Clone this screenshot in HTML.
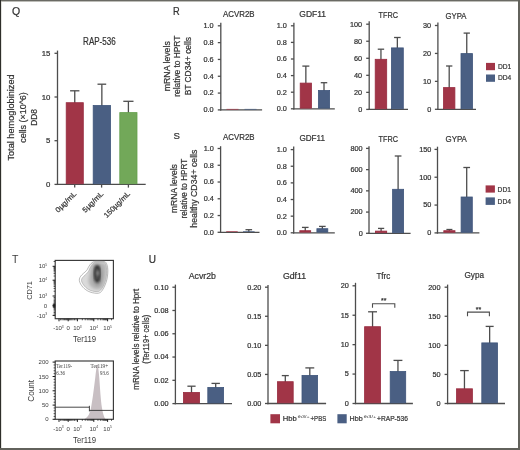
<!DOCTYPE html>
<html><head><meta charset="utf-8"><style>
html,body{margin:0;padding:0;background:#fff;}
svg{display:block;font-family:"Liberation Sans",sans-serif;will-change:transform;}
text{stroke:#333;stroke-width:0.22px;}
.lt text{stroke:none;fill:#3c3c3c;}
</style></head><body>
<svg width="520" height="450" viewBox="0 0 520 450">
<rect x="0" y="0" width="520" height="450" fill="#ffffff"/>
<text x="12" y="15.3" font-size="10.5" fill="#333333">Q</text>
<text x="83.1" y="45" font-size="10.4" fill="#333333" textLength="32.6" lengthAdjust="spacingAndGlyphs">RAP-536</text>
<line x1="57.5" y1="50.6" x2="57.5" y2="185.05" stroke="#4d4d4d" stroke-width="1.3"/>
<line x1="56.85" y1="184.4" x2="145.7" y2="184.4" stroke="#4d4d4d" stroke-width="1.3"/>
<line x1="54.5" y1="184.4" x2="57.5" y2="184.4" stroke="#4d4d4d" stroke-width="1.3"/>
<text x="50.4" y="186.97" font-size="7.8" fill="#333333" text-anchor="end">0</text>
<line x1="54.5" y1="140.7" x2="57.5" y2="140.7" stroke="#4d4d4d" stroke-width="1.3"/>
<text x="50.4" y="143.27" font-size="7.8" fill="#333333" text-anchor="end">5</text>
<line x1="54.5" y1="97" x2="57.5" y2="97" stroke="#4d4d4d" stroke-width="1.3"/>
<text x="50.4" y="99.57" font-size="7.8" fill="#333333" text-anchor="end">10</text>
<line x1="54.5" y1="53.3" x2="57.5" y2="53.3" stroke="#4d4d4d" stroke-width="1.3"/>
<text x="50.4" y="55.87" font-size="7.8" fill="#333333" text-anchor="end">15</text>
<line x1="74.75" y1="103.3" x2="74.75" y2="90.8" stroke="#4d4d4d" stroke-width="1.3"/>
<line x1="70.1" y1="90.8" x2="79.4" y2="90.8" stroke="#4d4d4d" stroke-width="1.3"/>
<rect x="66.2" y="102.7" width="17.1" height="81.05" fill="#a13547" stroke="#982c40" stroke-width="0.8"/>
<line x1="101.85" y1="106.1" x2="101.85" y2="84.2" stroke="#4d4d4d" stroke-width="1.3"/>
<line x1="97.5" y1="84.2" x2="106.2" y2="84.2" stroke="#4d4d4d" stroke-width="1.3"/>
<rect x="93.2" y="105.5" width="17.3" height="78.25" fill="#4a5f83" stroke="#3f557b" stroke-width="0.8"/>
<line x1="128.4" y1="113.2" x2="128.4" y2="101.3" stroke="#4d4d4d" stroke-width="1.3"/>
<line x1="123.3" y1="101.3" x2="133.5" y2="101.3" stroke="#4d4d4d" stroke-width="1.3"/>
<rect x="119.8" y="112.6" width="17.2" height="71.15" fill="#72a859" stroke="#64a04c" stroke-width="0.8"/>
<line x1="74.7" y1="184.4" x2="74.7" y2="187.6" stroke="#4d4d4d" stroke-width="1.3"/>
<line x1="101.6" y1="184.4" x2="101.6" y2="187.6" stroke="#4d4d4d" stroke-width="1.3"/>
<line x1="128.4" y1="184.4" x2="128.4" y2="187.6" stroke="#4d4d4d" stroke-width="1.3"/>
<text x="76.9" y="194.3" font-size="7.3" fill="#333333" text-anchor="end" textLength="26.3" lengthAdjust="spacingAndGlyphs" transform="rotate(-45 76.9 194.3)">0µg/mL</text>
<text x="103.9" y="194.3" font-size="7.3" fill="#333333" text-anchor="end" textLength="26.3" lengthAdjust="spacingAndGlyphs" transform="rotate(-45 103.9 194.3)">5µg/mL</text>
<text x="130.6" y="194.3" font-size="7.3" fill="#333333" text-anchor="end" textLength="33.8" lengthAdjust="spacingAndGlyphs" transform="rotate(-45 130.6 194.3)">150µg/mL</text>
<text x="14.2" y="117.5" font-size="9.4" fill="#333333" text-anchor="middle" textLength="86.2" lengthAdjust="spacingAndGlyphs" transform="rotate(-90 14.2 117.5)">Total hemoglobinized</text>
<text x="25.6" y="117.5" font-size="9.4" fill="#333333" text-anchor="middle" textLength="50.6" lengthAdjust="spacingAndGlyphs" transform="rotate(-90 25.6 117.5)">cells (×10^6)</text>
<text x="36.7" y="117.5" font-size="9.4" fill="#333333" text-anchor="middle" textLength="16.7" lengthAdjust="spacingAndGlyphs" transform="rotate(-90 36.7 117.5)">DD8</text>
<text x="173" y="15.4" font-size="10" fill="#333333" textLength="6.7" lengthAdjust="spacingAndGlyphs">R</text>
<text x="223.1" y="17.3" font-size="8.9" fill="#333333" textLength="31.5" lengthAdjust="spacingAndGlyphs">ACVR2B</text>
<text x="299.3" y="16.7" font-size="8.9" fill="#333333" textLength="26.7" lengthAdjust="spacingAndGlyphs">GDF11</text>
<text x="378.6" y="18.3" font-size="8.9" fill="#333333" textLength="19.4" lengthAdjust="spacingAndGlyphs">TFRC</text>
<text x="445.6" y="18.5" font-size="8.9" fill="#333333" textLength="20.9" lengthAdjust="spacingAndGlyphs">GYPA</text>
<line x1="220.8" y1="22.8" x2="220.8" y2="110.55" stroke="#4d4d4d" stroke-width="1.3"/>
<line x1="220.15" y1="109.9" x2="262.1" y2="109.9" stroke="#4d4d4d" stroke-width="1.3"/>
<line x1="217.8" y1="109.9" x2="220.8" y2="109.9" stroke="#4d4d4d" stroke-width="1.3"/>
<text x="213.7" y="112.31" font-size="7.3" fill="#333333" text-anchor="end">0.0</text>
<line x1="217.8" y1="93.08" x2="220.8" y2="93.08" stroke="#4d4d4d" stroke-width="1.3"/>
<text x="213.7" y="95.49" font-size="7.3" fill="#333333" text-anchor="end">0.2</text>
<line x1="217.8" y1="76.26" x2="220.8" y2="76.26" stroke="#4d4d4d" stroke-width="1.3"/>
<text x="213.7" y="78.67" font-size="7.3" fill="#333333" text-anchor="end">0.4</text>
<line x1="217.8" y1="59.44" x2="220.8" y2="59.44" stroke="#4d4d4d" stroke-width="1.3"/>
<text x="213.7" y="61.85" font-size="7.3" fill="#333333" text-anchor="end">0.6</text>
<line x1="217.8" y1="42.62" x2="220.8" y2="42.62" stroke="#4d4d4d" stroke-width="1.3"/>
<text x="213.7" y="45.03" font-size="7.3" fill="#333333" text-anchor="end">0.8</text>
<line x1="217.8" y1="25.8" x2="220.8" y2="25.8" stroke="#4d4d4d" stroke-width="1.3"/>
<text x="213.7" y="28.21" font-size="7.3" fill="#333333" text-anchor="end">1.0</text>
<rect x="226.5" y="108.9" width="12" height="0.7" fill="#a13547"/>
<rect x="244.5" y="108.9" width="12" height="0.7" fill="#4a5f83"/>
<line x1="293.9" y1="22.8" x2="293.9" y2="109.45" stroke="#4d4d4d" stroke-width="1.3"/>
<line x1="293.25" y1="108.8" x2="334.8" y2="108.8" stroke="#4d4d4d" stroke-width="1.3"/>
<line x1="290.9" y1="108.8" x2="293.9" y2="108.8" stroke="#4d4d4d" stroke-width="1.3"/>
<text x="286.9" y="111.21" font-size="7.3" fill="#333333" text-anchor="end">0.0</text>
<line x1="290.9" y1="92.2" x2="293.9" y2="92.2" stroke="#4d4d4d" stroke-width="1.3"/>
<text x="286.9" y="94.61" font-size="7.3" fill="#333333" text-anchor="end">0.2</text>
<line x1="290.9" y1="75.6" x2="293.9" y2="75.6" stroke="#4d4d4d" stroke-width="1.3"/>
<text x="286.9" y="78.01" font-size="7.3" fill="#333333" text-anchor="end">0.4</text>
<line x1="290.9" y1="59" x2="293.9" y2="59" stroke="#4d4d4d" stroke-width="1.3"/>
<text x="286.9" y="61.41" font-size="7.3" fill="#333333" text-anchor="end">0.6</text>
<line x1="290.9" y1="42.4" x2="293.9" y2="42.4" stroke="#4d4d4d" stroke-width="1.3"/>
<text x="286.9" y="44.81" font-size="7.3" fill="#333333" text-anchor="end">0.8</text>
<line x1="290.9" y1="25.8" x2="293.9" y2="25.8" stroke="#4d4d4d" stroke-width="1.3"/>
<text x="286.9" y="28.21" font-size="7.3" fill="#333333" text-anchor="end">1.0</text>
<line x1="305.85" y1="83.7" x2="305.85" y2="66.1" stroke="#4d4d4d" stroke-width="1.3"/>
<line x1="302.35" y1="66.1" x2="309.35" y2="66.1" stroke="#4d4d4d" stroke-width="1.3"/>
<rect x="300.2" y="83.1" width="11.3" height="25.05" fill="#a13547" stroke="#982c40" stroke-width="0.8"/>
<line x1="324" y1="91.1" x2="324" y2="82.7" stroke="#4d4d4d" stroke-width="1.3"/>
<line x1="320.75" y1="82.7" x2="327.25" y2="82.7" stroke="#4d4d4d" stroke-width="1.3"/>
<rect x="318.4" y="90.5" width="11.2" height="17.65" fill="#4a5f83" stroke="#3f557b" stroke-width="0.8"/>
<line x1="369.2" y1="21.2" x2="369.2" y2="110.05" stroke="#4d4d4d" stroke-width="1.3"/>
<line x1="368.55" y1="109.4" x2="408" y2="109.4" stroke="#4d4d4d" stroke-width="1.3"/>
<line x1="366.2" y1="109.4" x2="369.2" y2="109.4" stroke="#4d4d4d" stroke-width="1.3"/>
<text x="362.2" y="111.81" font-size="7.3" fill="#333333" text-anchor="end">0</text>
<line x1="366.2" y1="92.36" x2="369.2" y2="92.36" stroke="#4d4d4d" stroke-width="1.3"/>
<text x="362.2" y="94.77" font-size="7.3" fill="#333333" text-anchor="end">20</text>
<line x1="366.2" y1="75.32" x2="369.2" y2="75.32" stroke="#4d4d4d" stroke-width="1.3"/>
<text x="362.2" y="77.73" font-size="7.3" fill="#333333" text-anchor="end">40</text>
<line x1="366.2" y1="58.28" x2="369.2" y2="58.28" stroke="#4d4d4d" stroke-width="1.3"/>
<text x="362.2" y="60.69" font-size="7.3" fill="#333333" text-anchor="end">60</text>
<line x1="366.2" y1="41.24" x2="369.2" y2="41.24" stroke="#4d4d4d" stroke-width="1.3"/>
<text x="362.2" y="43.65" font-size="7.3" fill="#333333" text-anchor="end">80</text>
<line x1="366.2" y1="24.2" x2="369.2" y2="24.2" stroke="#4d4d4d" stroke-width="1.3"/>
<text x="362.2" y="26.61" font-size="7.3" fill="#333333" text-anchor="end">100</text>
<line x1="380.95" y1="59.9" x2="380.95" y2="49.2" stroke="#4d4d4d" stroke-width="1.3"/>
<line x1="377.75" y1="49.2" x2="384.15" y2="49.2" stroke="#4d4d4d" stroke-width="1.3"/>
<rect x="375.2" y="59.3" width="11.5" height="49.45" fill="#a13547" stroke="#982c40" stroke-width="0.8"/>
<line x1="397.35" y1="48.5" x2="397.35" y2="37.5" stroke="#4d4d4d" stroke-width="1.3"/>
<line x1="394.05" y1="37.5" x2="400.65" y2="37.5" stroke="#4d4d4d" stroke-width="1.3"/>
<rect x="391.4" y="47.9" width="11.9" height="60.85" fill="#4a5f83" stroke="#3f557b" stroke-width="0.8"/>
<line x1="437.9" y1="22.6" x2="437.9" y2="109.95" stroke="#4d4d4d" stroke-width="1.3"/>
<line x1="437.25" y1="109.3" x2="476" y2="109.3" stroke="#4d4d4d" stroke-width="1.3"/>
<line x1="434.9" y1="109.3" x2="437.9" y2="109.3" stroke="#4d4d4d" stroke-width="1.3"/>
<text x="431.2" y="111.71" font-size="7.3" fill="#333333" text-anchor="end">0</text>
<line x1="434.9" y1="81.37" x2="437.9" y2="81.37" stroke="#4d4d4d" stroke-width="1.3"/>
<text x="431.2" y="83.78" font-size="7.3" fill="#333333" text-anchor="end">10</text>
<line x1="434.9" y1="53.43" x2="437.9" y2="53.43" stroke="#4d4d4d" stroke-width="1.3"/>
<text x="431.2" y="55.84" font-size="7.3" fill="#333333" text-anchor="end">20</text>
<line x1="434.9" y1="25.5" x2="437.9" y2="25.5" stroke="#4d4d4d" stroke-width="1.3"/>
<text x="431.2" y="27.91" font-size="7.3" fill="#333333" text-anchor="end">30</text>
<line x1="449.2" y1="88.2" x2="449.2" y2="66" stroke="#4d4d4d" stroke-width="1.3"/>
<line x1="446.05" y1="66" x2="452.35" y2="66" stroke="#4d4d4d" stroke-width="1.3"/>
<rect x="443.5" y="87.6" width="11.4" height="21.05" fill="#a13547" stroke="#982c40" stroke-width="0.8"/>
<line x1="466.75" y1="54.2" x2="466.75" y2="33.1" stroke="#4d4d4d" stroke-width="1.3"/>
<line x1="463.6" y1="33.1" x2="469.9" y2="33.1" stroke="#4d4d4d" stroke-width="1.3"/>
<rect x="461" y="53.6" width="11.5" height="55.05" fill="#4a5f83" stroke="#3f557b" stroke-width="0.8"/>
<rect x="486" y="62.9" width="9" height="7.3" fill="#a13547"/>
<rect x="486" y="74.5" width="9" height="7.3" fill="#4a5f83"/>
<text x="498" y="68.8" font-size="7.4" fill="#333333" textLength="13.3" lengthAdjust="spacingAndGlyphs">DD1</text>
<text x="498" y="80.4" font-size="7.4" fill="#333333" textLength="13.3" lengthAdjust="spacingAndGlyphs">DD4</text>
<text x="170.2" y="66.2" font-size="9" fill="#333333" text-anchor="middle" textLength="50" lengthAdjust="spacingAndGlyphs" transform="rotate(-90 170.2 66.2)">mRNA levels</text>
<text x="180.4" y="66.2" font-size="9" fill="#333333" text-anchor="middle" textLength="61.1" lengthAdjust="spacingAndGlyphs" transform="rotate(-90 180.4 66.2)">relative to HPRT</text>
<text x="190.6" y="66.2" font-size="9" fill="#333333" text-anchor="middle" textLength="58.3" lengthAdjust="spacingAndGlyphs" transform="rotate(-90 190.6 66.2)">BT CD34+ cells</text>
<text x="173.6" y="139.2" font-size="9.6" fill="#333333">S</text>
<text x="223.1" y="140.2" font-size="8.9" fill="#333333" textLength="31.5" lengthAdjust="spacingAndGlyphs">ACVR2B</text>
<text x="299.4" y="141" font-size="8.9" fill="#333333" textLength="25.6" lengthAdjust="spacingAndGlyphs">GDF11</text>
<text x="378.6" y="142.2" font-size="8.9" fill="#333333" textLength="19.4" lengthAdjust="spacingAndGlyphs">TFRC</text>
<text x="445.5" y="141.8" font-size="8.9" fill="#333333" textLength="21.4" lengthAdjust="spacingAndGlyphs">GYPA</text>
<line x1="220.6" y1="146.2" x2="220.6" y2="232.95" stroke="#4d4d4d" stroke-width="1.3"/>
<line x1="219.95" y1="232.3" x2="259.5" y2="232.3" stroke="#4d4d4d" stroke-width="1.3"/>
<line x1="217.6" y1="232.3" x2="220.6" y2="232.3" stroke="#4d4d4d" stroke-width="1.3"/>
<text x="213.8" y="234.71" font-size="7.3" fill="#333333" text-anchor="end">0.0</text>
<line x1="217.6" y1="215.54" x2="220.6" y2="215.54" stroke="#4d4d4d" stroke-width="1.3"/>
<text x="213.8" y="217.95" font-size="7.3" fill="#333333" text-anchor="end">0.2</text>
<line x1="217.6" y1="198.78" x2="220.6" y2="198.78" stroke="#4d4d4d" stroke-width="1.3"/>
<text x="213.8" y="201.19" font-size="7.3" fill="#333333" text-anchor="end">0.4</text>
<line x1="217.6" y1="182.02" x2="220.6" y2="182.02" stroke="#4d4d4d" stroke-width="1.3"/>
<text x="213.8" y="184.43" font-size="7.3" fill="#333333" text-anchor="end">0.6</text>
<line x1="217.6" y1="165.26" x2="220.6" y2="165.26" stroke="#4d4d4d" stroke-width="1.3"/>
<text x="213.8" y="167.67" font-size="7.3" fill="#333333" text-anchor="end">0.8</text>
<line x1="217.6" y1="148.5" x2="220.6" y2="148.5" stroke="#4d4d4d" stroke-width="1.3"/>
<text x="213.8" y="150.91" font-size="7.3" fill="#333333" text-anchor="end">1.0</text>
<rect x="226.2" y="231.3" width="11.5" height="0.7" fill="#a13547"/>
<line x1="248.8" y1="232.3" x2="248.8" y2="229.7" stroke="#4d4d4d" stroke-width="1.3"/>
<line x1="245.5" y1="229.7" x2="252.1" y2="229.7" stroke="#4d4d4d" stroke-width="1.3"/>
<rect x="243" y="231.3" width="11.6" height="0.7" fill="#4a5f83"/>
<line x1="293.7" y1="146.6" x2="293.7" y2="233.45" stroke="#4d4d4d" stroke-width="1.3"/>
<line x1="293.05" y1="232.8" x2="334.8" y2="232.8" stroke="#4d4d4d" stroke-width="1.3"/>
<line x1="290.7" y1="232.8" x2="293.7" y2="232.8" stroke="#4d4d4d" stroke-width="1.3"/>
<text x="286.9" y="235.21" font-size="7.3" fill="#333333" text-anchor="end">0.0</text>
<line x1="290.7" y1="216.16" x2="293.7" y2="216.16" stroke="#4d4d4d" stroke-width="1.3"/>
<text x="286.9" y="218.57" font-size="7.3" fill="#333333" text-anchor="end">0.2</text>
<line x1="290.7" y1="199.52" x2="293.7" y2="199.52" stroke="#4d4d4d" stroke-width="1.3"/>
<text x="286.9" y="201.93" font-size="7.3" fill="#333333" text-anchor="end">0.4</text>
<line x1="290.7" y1="182.88" x2="293.7" y2="182.88" stroke="#4d4d4d" stroke-width="1.3"/>
<text x="286.9" y="185.29" font-size="7.3" fill="#333333" text-anchor="end">0.6</text>
<line x1="290.7" y1="166.24" x2="293.7" y2="166.24" stroke="#4d4d4d" stroke-width="1.3"/>
<text x="286.9" y="168.65" font-size="7.3" fill="#333333" text-anchor="end">0.8</text>
<line x1="290.7" y1="149.6" x2="293.7" y2="149.6" stroke="#4d4d4d" stroke-width="1.3"/>
<text x="286.9" y="152.01" font-size="7.3" fill="#333333" text-anchor="end">1.0</text>
<line x1="305.25" y1="231.3" x2="305.25" y2="227.4" stroke="#4d4d4d" stroke-width="1.3"/>
<line x1="301.95" y1="227.4" x2="308.55" y2="227.4" stroke="#4d4d4d" stroke-width="1.3"/>
<rect x="299.8" y="230.7" width="10.9" height="1.45" fill="#a13547" stroke="#982c40" stroke-width="0.8"/>
<line x1="322.35" y1="229.3" x2="322.35" y2="226.4" stroke="#4d4d4d" stroke-width="1.3"/>
<line x1="319.05" y1="226.4" x2="325.65" y2="226.4" stroke="#4d4d4d" stroke-width="1.3"/>
<rect x="316.9" y="228.7" width="10.9" height="3.45" fill="#4a5f83" stroke="#3f557b" stroke-width="0.8"/>
<line x1="369" y1="146.2" x2="369" y2="233.95" stroke="#4d4d4d" stroke-width="1.3"/>
<line x1="368.35" y1="233.3" x2="410.6" y2="233.3" stroke="#4d4d4d" stroke-width="1.3"/>
<line x1="366" y1="233.3" x2="369" y2="233.3" stroke="#4d4d4d" stroke-width="1.3"/>
<text x="362.7" y="235.71" font-size="7.3" fill="#333333" text-anchor="end">0</text>
<line x1="366" y1="212.08" x2="369" y2="212.08" stroke="#4d4d4d" stroke-width="1.3"/>
<text x="362.7" y="214.48" font-size="7.3" fill="#333333" text-anchor="end">200</text>
<line x1="366" y1="190.85" x2="369" y2="190.85" stroke="#4d4d4d" stroke-width="1.3"/>
<text x="362.7" y="193.26" font-size="7.3" fill="#333333" text-anchor="end">400</text>
<line x1="366" y1="169.62" x2="369" y2="169.62" stroke="#4d4d4d" stroke-width="1.3"/>
<text x="362.7" y="172.03" font-size="7.3" fill="#333333" text-anchor="end">600</text>
<line x1="366" y1="148.4" x2="369" y2="148.4" stroke="#4d4d4d" stroke-width="1.3"/>
<text x="362.7" y="150.81" font-size="7.3" fill="#333333" text-anchor="end">800</text>
<line x1="381.1" y1="231.7" x2="381.1" y2="228.4" stroke="#4d4d4d" stroke-width="1.3"/>
<line x1="378" y1="228.4" x2="384.2" y2="228.4" stroke="#4d4d4d" stroke-width="1.3"/>
<rect x="375.5" y="231.1" width="11.2" height="1.55" fill="#a13547" stroke="#982c40" stroke-width="0.8"/>
<line x1="398.1" y1="189.9" x2="398.1" y2="156" stroke="#4d4d4d" stroke-width="1.3"/>
<line x1="394.75" y1="156" x2="401.45" y2="156" stroke="#4d4d4d" stroke-width="1.3"/>
<rect x="392.6" y="189.3" width="11" height="43.35" fill="#4a5f83" stroke="#3f557b" stroke-width="0.8"/>
<line x1="437.5" y1="146.7" x2="437.5" y2="233.55" stroke="#4d4d4d" stroke-width="1.3"/>
<line x1="436.85" y1="232.9" x2="479.4" y2="232.9" stroke="#4d4d4d" stroke-width="1.3"/>
<line x1="434.5" y1="232.9" x2="437.5" y2="232.9" stroke="#4d4d4d" stroke-width="1.3"/>
<text x="431.4" y="235.31" font-size="7.3" fill="#333333" text-anchor="end">0</text>
<line x1="434.5" y1="205.07" x2="437.5" y2="205.07" stroke="#4d4d4d" stroke-width="1.3"/>
<text x="431.4" y="207.48" font-size="7.3" fill="#333333" text-anchor="end">50</text>
<line x1="434.5" y1="177.23" x2="437.5" y2="177.23" stroke="#4d4d4d" stroke-width="1.3"/>
<text x="431.4" y="179.64" font-size="7.3" fill="#333333" text-anchor="end">100</text>
<line x1="434.5" y1="149.4" x2="437.5" y2="149.4" stroke="#4d4d4d" stroke-width="1.3"/>
<text x="431.4" y="151.81" font-size="7.3" fill="#333333" text-anchor="end">150</text>
<line x1="449.4" y1="231.3" x2="449.4" y2="229.5" stroke="#4d4d4d" stroke-width="1.3"/>
<line x1="446.4" y1="229.5" x2="452.4" y2="229.5" stroke="#4d4d4d" stroke-width="1.3"/>
<rect x="443.8" y="230.7" width="11.2" height="1.55" fill="#a13547" stroke="#982c40" stroke-width="0.8"/>
<line x1="466.7" y1="197.6" x2="466.7" y2="167.5" stroke="#4d4d4d" stroke-width="1.3"/>
<line x1="463.35" y1="167.5" x2="470.05" y2="167.5" stroke="#4d4d4d" stroke-width="1.3"/>
<rect x="461.1" y="197" width="11.2" height="35.25" fill="#4a5f83" stroke="#3f557b" stroke-width="0.8"/>
<rect x="485.6" y="185.4" width="9.3" height="7.2" fill="#a13547"/>
<rect x="485.6" y="197.4" width="9.3" height="7.5" fill="#4a5f83"/>
<text x="497.6" y="192.1" font-size="7.4" fill="#333333" textLength="13.4" lengthAdjust="spacingAndGlyphs">DD1</text>
<text x="497.6" y="203.7" font-size="7.4" fill="#333333" textLength="13.4" lengthAdjust="spacingAndGlyphs">DD4</text>
<text x="176.8" y="188.6" font-size="9" fill="#333333" text-anchor="middle" textLength="48.8" lengthAdjust="spacingAndGlyphs" transform="rotate(-90 176.8 188.6)">mRNA levels</text>
<text x="187" y="188.6" font-size="9" fill="#333333" text-anchor="middle" textLength="59.7" lengthAdjust="spacingAndGlyphs" transform="rotate(-90 187 188.6)">relative to HPRT</text>
<text x="197" y="188.6" font-size="9" fill="#333333" text-anchor="middle" textLength="78.1" lengthAdjust="spacingAndGlyphs" transform="rotate(-90 197 188.6)">healthy CD34+ cells</text>
<text x="148.7" y="263.1" font-size="10" fill="#333333">U</text>
<text x="188.7" y="278.8" font-size="9.1" fill="#333333" textLength="27.3" lengthAdjust="spacingAndGlyphs">Acvr2b</text>
<text x="282.9" y="278.8" font-size="9.1" fill="#333333" textLength="23.3" lengthAdjust="spacingAndGlyphs">Gdf11</text>
<text x="376.4" y="278.8" font-size="9.1" fill="#333333" textLength="13.9" lengthAdjust="spacingAndGlyphs">Tfrc</text>
<text x="464.5" y="277.5" font-size="9.1" fill="#333333" textLength="19.5" lengthAdjust="spacingAndGlyphs">Gypa</text>
<line x1="175.4" y1="284.6" x2="175.4" y2="404.25" stroke="#4d4d4d" stroke-width="1.3"/>
<line x1="174.75" y1="403.6" x2="232" y2="403.6" stroke="#4d4d4d" stroke-width="1.3"/>
<line x1="172.4" y1="403.6" x2="175.4" y2="403.6" stroke="#4d4d4d" stroke-width="1.3"/>
<text x="168.5" y="406.01" font-size="7.3" fill="#333333" text-anchor="end">0.00</text>
<line x1="172.4" y1="380.32" x2="175.4" y2="380.32" stroke="#4d4d4d" stroke-width="1.3"/>
<text x="168.5" y="382.73" font-size="7.3" fill="#333333" text-anchor="end">0.02</text>
<line x1="172.4" y1="357.04" x2="175.4" y2="357.04" stroke="#4d4d4d" stroke-width="1.3"/>
<text x="168.5" y="359.45" font-size="7.3" fill="#333333" text-anchor="end">0.04</text>
<line x1="172.4" y1="333.76" x2="175.4" y2="333.76" stroke="#4d4d4d" stroke-width="1.3"/>
<text x="168.5" y="336.17" font-size="7.3" fill="#333333" text-anchor="end">0.06</text>
<line x1="172.4" y1="310.48" x2="175.4" y2="310.48" stroke="#4d4d4d" stroke-width="1.3"/>
<text x="168.5" y="312.89" font-size="7.3" fill="#333333" text-anchor="end">0.08</text>
<line x1="172.4" y1="287.2" x2="175.4" y2="287.2" stroke="#4d4d4d" stroke-width="1.3"/>
<text x="168.5" y="289.61" font-size="7.3" fill="#333333" text-anchor="end">0.10</text>
<line x1="191.5" y1="393" x2="191.5" y2="386.2" stroke="#4d4d4d" stroke-width="1.3"/>
<line x1="187.4" y1="386.2" x2="195.6" y2="386.2" stroke="#4d4d4d" stroke-width="1.3"/>
<rect x="183.4" y="392.4" width="16.2" height="10.55" fill="#a13547" stroke="#982c40" stroke-width="0.8"/>
<line x1="215.7" y1="388" x2="215.7" y2="383.4" stroke="#4d4d4d" stroke-width="1.3"/>
<line x1="211.5" y1="383.4" x2="219.9" y2="383.4" stroke="#4d4d4d" stroke-width="1.3"/>
<rect x="207.8" y="387.4" width="15.8" height="15.55" fill="#4a5f83" stroke="#3f557b" stroke-width="0.8"/>
<line x1="268" y1="284.9" x2="268" y2="404.15" stroke="#4d4d4d" stroke-width="1.3"/>
<line x1="267.35" y1="403.5" x2="326.1" y2="403.5" stroke="#4d4d4d" stroke-width="1.3"/>
<line x1="265" y1="403.5" x2="268" y2="403.5" stroke="#4d4d4d" stroke-width="1.3"/>
<text x="261.4" y="405.91" font-size="7.3" fill="#333333" text-anchor="end">0.00</text>
<line x1="265" y1="374.43" x2="268" y2="374.43" stroke="#4d4d4d" stroke-width="1.3"/>
<text x="261.4" y="376.83" font-size="7.3" fill="#333333" text-anchor="end">0.05</text>
<line x1="265" y1="345.35" x2="268" y2="345.35" stroke="#4d4d4d" stroke-width="1.3"/>
<text x="261.4" y="347.76" font-size="7.3" fill="#333333" text-anchor="end">0.10</text>
<line x1="265" y1="316.27" x2="268" y2="316.27" stroke="#4d4d4d" stroke-width="1.3"/>
<text x="261.4" y="318.68" font-size="7.3" fill="#333333" text-anchor="end">0.15</text>
<line x1="265" y1="287.2" x2="268" y2="287.2" stroke="#4d4d4d" stroke-width="1.3"/>
<text x="261.4" y="289.61" font-size="7.3" fill="#333333" text-anchor="end">0.20</text>
<line x1="285.3" y1="382.3" x2="285.3" y2="375.6" stroke="#4d4d4d" stroke-width="1.3"/>
<line x1="281.8" y1="375.6" x2="288.8" y2="375.6" stroke="#4d4d4d" stroke-width="1.3"/>
<rect x="277.4" y="381.7" width="15.8" height="21.15" fill="#a13547" stroke="#982c40" stroke-width="0.8"/>
<line x1="309.8" y1="376" x2="309.8" y2="367.9" stroke="#4d4d4d" stroke-width="1.3"/>
<line x1="305.35" y1="367.9" x2="314.25" y2="367.9" stroke="#4d4d4d" stroke-width="1.3"/>
<rect x="302" y="375.4" width="15.6" height="27.45" fill="#4a5f83" stroke="#3f557b" stroke-width="0.8"/>
<line x1="355.5" y1="282.8" x2="355.5" y2="404.15" stroke="#4d4d4d" stroke-width="1.3"/>
<line x1="354.85" y1="403.5" x2="412.9" y2="403.5" stroke="#4d4d4d" stroke-width="1.3"/>
<line x1="352.5" y1="403.5" x2="355.5" y2="403.5" stroke="#4d4d4d" stroke-width="1.3"/>
<text x="348.9" y="405.91" font-size="7.3" fill="#333333" text-anchor="end">0</text>
<line x1="352.5" y1="374.07" x2="355.5" y2="374.07" stroke="#4d4d4d" stroke-width="1.3"/>
<text x="348.9" y="376.48" font-size="7.3" fill="#333333" text-anchor="end">5</text>
<line x1="352.5" y1="344.65" x2="355.5" y2="344.65" stroke="#4d4d4d" stroke-width="1.3"/>
<text x="348.9" y="347.06" font-size="7.3" fill="#333333" text-anchor="end">10</text>
<line x1="352.5" y1="315.23" x2="355.5" y2="315.23" stroke="#4d4d4d" stroke-width="1.3"/>
<text x="348.9" y="317.63" font-size="7.3" fill="#333333" text-anchor="end">15</text>
<line x1="352.5" y1="285.8" x2="355.5" y2="285.8" stroke="#4d4d4d" stroke-width="1.3"/>
<text x="348.9" y="288.21" font-size="7.3" fill="#333333" text-anchor="end">20</text>
<line x1="372.55" y1="327.3" x2="372.55" y2="311.8" stroke="#4d4d4d" stroke-width="1.3"/>
<line x1="368.1" y1="311.8" x2="377" y2="311.8" stroke="#4d4d4d" stroke-width="1.3"/>
<rect x="364.6" y="326.7" width="15.9" height="76.15" fill="#a13547" stroke="#982c40" stroke-width="0.8"/>
<line x1="397.95" y1="372.1" x2="397.95" y2="360.4" stroke="#4d4d4d" stroke-width="1.3"/>
<line x1="393.5" y1="360.4" x2="402.4" y2="360.4" stroke="#4d4d4d" stroke-width="1.3"/>
<rect x="390.2" y="371.5" width="15.5" height="31.35" fill="#4a5f83" stroke="#3f557b" stroke-width="0.8"/>
<line x1="447.6" y1="284.6" x2="447.6" y2="404.15" stroke="#4d4d4d" stroke-width="1.3"/>
<line x1="446.95" y1="403.5" x2="505" y2="403.5" stroke="#4d4d4d" stroke-width="1.3"/>
<line x1="444.6" y1="403.5" x2="447.6" y2="403.5" stroke="#4d4d4d" stroke-width="1.3"/>
<text x="440.5" y="405.91" font-size="7.3" fill="#333333" text-anchor="end">0</text>
<line x1="444.6" y1="374.43" x2="447.6" y2="374.43" stroke="#4d4d4d" stroke-width="1.3"/>
<text x="440.5" y="376.83" font-size="7.3" fill="#333333" text-anchor="end">50</text>
<line x1="444.6" y1="345.35" x2="447.6" y2="345.35" stroke="#4d4d4d" stroke-width="1.3"/>
<text x="440.5" y="347.76" font-size="7.3" fill="#333333" text-anchor="end">100</text>
<line x1="444.6" y1="316.27" x2="447.6" y2="316.27" stroke="#4d4d4d" stroke-width="1.3"/>
<text x="440.5" y="318.68" font-size="7.3" fill="#333333" text-anchor="end">150</text>
<line x1="444.6" y1="287.2" x2="447.6" y2="287.2" stroke="#4d4d4d" stroke-width="1.3"/>
<text x="440.5" y="289.61" font-size="7.3" fill="#333333" text-anchor="end">200</text>
<line x1="464.45" y1="389.4" x2="464.45" y2="370.6" stroke="#4d4d4d" stroke-width="1.3"/>
<line x1="460.15" y1="370.6" x2="468.75" y2="370.6" stroke="#4d4d4d" stroke-width="1.3"/>
<rect x="456.5" y="388.8" width="15.9" height="14.05" fill="#a13547" stroke="#982c40" stroke-width="0.8"/>
<line x1="489.65" y1="343.5" x2="489.65" y2="326.4" stroke="#4d4d4d" stroke-width="1.3"/>
<line x1="485.65" y1="326.4" x2="493.65" y2="326.4" stroke="#4d4d4d" stroke-width="1.3"/>
<rect x="481.8" y="342.9" width="15.7" height="59.95" fill="#4a5f83" stroke="#3f557b" stroke-width="0.8"/>
<path d="M372.5 307.7 V303.8 H394.8 V307.7" fill="none" stroke="#4d4d4d" stroke-width="1.1"/>
<text x="383.7" y="303.3" font-size="7" fill="#333333" text-anchor="middle">**</text>
<path d="M467.5 316.2 V312.1 H489.4 V316.2" fill="none" stroke="#4d4d4d" stroke-width="1.1"/>
<text x="478.5" y="311.6" font-size="7" fill="#333333" text-anchor="middle">**</text>
<text x="138.6" y="339.3" font-size="8.6" fill="#333333" text-anchor="middle" textLength="101" lengthAdjust="spacingAndGlyphs" transform="rotate(-90 138.6 339.3)">mRNA levels relative to Hprt</text>
<text x="149.2" y="339.3" font-size="8.6" fill="#333333" text-anchor="middle" textLength="48.9" lengthAdjust="spacingAndGlyphs" transform="rotate(-90 149.2 339.3)">(Ter119+ cells)</text>
<rect x="270.4" y="414.2" width="9.6" height="9.1" fill="#a13547"/>
<text x="282.7" y="421.4" font-size="7.6" fill="#333333" textLength="14" lengthAdjust="spacingAndGlyphs">Hbb</text>
<text x="297.7" y="418.2" font-size="4.4" fill="#333333" textLength="11.9" lengthAdjust="spacingAndGlyphs" style="stroke:none">th3/+</text>
<text x="310.6" y="421.4" font-size="7.6" fill="#333333" textLength="15.6" lengthAdjust="spacingAndGlyphs">+PBS</text>
<rect x="337.4" y="414.2" width="9.3" height="9.1" fill="#4a5f83"/>
<text x="349.6" y="421.4" font-size="7.6" fill="#333333" textLength="13.1" lengthAdjust="spacingAndGlyphs">Hbb</text>
<text x="363.7" y="418.2" font-size="4.4" fill="#333333" textLength="12.5" lengthAdjust="spacingAndGlyphs" style="stroke:none">th3/+</text>
<text x="377.1" y="421.4" font-size="7.6" fill="#333333" textLength="30.8" lengthAdjust="spacingAndGlyphs">+RAP-536</text>
<g class="lt">
<text x="12" y="262.9" font-size="10.5" fill="#333333">T</text>
<rect x="55.2" y="260.4" width="58.2" height="58.3" fill="none" stroke="#383838" stroke-width="1.15"/>
<line x1="52.6" y1="266.3" x2="55.2" y2="266.3" stroke="#1a1a1a" stroke-width="1"/>
<line x1="52.6" y1="280.2" x2="55.2" y2="280.2" stroke="#1a1a1a" stroke-width="1"/>
<line x1="52.6" y1="296" x2="55.2" y2="296" stroke="#1a1a1a" stroke-width="1"/>
<line x1="52.6" y1="305.7" x2="55.2" y2="305.7" stroke="#1a1a1a" stroke-width="1"/>
<line x1="52.6" y1="315.4" x2="55.2" y2="315.4" stroke="#1a1a1a" stroke-width="1"/>
<line x1="53.6" y1="276.02" x2="55.2" y2="276.02" stroke="#1a1a1a" stroke-width="0.7"/>
<line x1="53.6" y1="273.57" x2="55.2" y2="273.57" stroke="#1a1a1a" stroke-width="0.7"/>
<line x1="53.6" y1="271.83" x2="55.2" y2="271.83" stroke="#1a1a1a" stroke-width="0.7"/>
<line x1="53.6" y1="270.48" x2="55.2" y2="270.48" stroke="#1a1a1a" stroke-width="0.7"/>
<line x1="53.6" y1="269.38" x2="55.2" y2="269.38" stroke="#1a1a1a" stroke-width="0.7"/>
<line x1="53.6" y1="268.45" x2="55.2" y2="268.45" stroke="#1a1a1a" stroke-width="0.7"/>
<line x1="53.6" y1="267.65" x2="55.2" y2="267.65" stroke="#1a1a1a" stroke-width="0.7"/>
<line x1="53.6" y1="266.94" x2="55.2" y2="266.94" stroke="#1a1a1a" stroke-width="0.7"/>
<line x1="53.6" y1="291.24" x2="55.2" y2="291.24" stroke="#1a1a1a" stroke-width="0.7"/>
<line x1="53.6" y1="288.46" x2="55.2" y2="288.46" stroke="#1a1a1a" stroke-width="0.7"/>
<line x1="53.6" y1="286.49" x2="55.2" y2="286.49" stroke="#1a1a1a" stroke-width="0.7"/>
<line x1="53.6" y1="284.96" x2="55.2" y2="284.96" stroke="#1a1a1a" stroke-width="0.7"/>
<line x1="53.6" y1="283.71" x2="55.2" y2="283.71" stroke="#1a1a1a" stroke-width="0.7"/>
<line x1="53.6" y1="282.65" x2="55.2" y2="282.65" stroke="#1a1a1a" stroke-width="0.7"/>
<line x1="53.6" y1="281.73" x2="55.2" y2="281.73" stroke="#1a1a1a" stroke-width="0.7"/>
<line x1="53.6" y1="280.92" x2="55.2" y2="280.92" stroke="#1a1a1a" stroke-width="0.7"/>
<line x1="53.6" y1="297.5" x2="55.2" y2="297.5" stroke="#1a1a1a" stroke-width="0.7"/>
<line x1="53.6" y1="299" x2="55.2" y2="299" stroke="#1a1a1a" stroke-width="0.7"/>
<line x1="53.6" y1="300.4" x2="55.2" y2="300.4" stroke="#1a1a1a" stroke-width="0.7"/>
<line x1="53.6" y1="301.7" x2="55.2" y2="301.7" stroke="#1a1a1a" stroke-width="0.7"/>
<line x1="53.6" y1="302.8" x2="55.2" y2="302.8" stroke="#1a1a1a" stroke-width="0.7"/>
<line x1="53.6" y1="303.8" x2="55.2" y2="303.8" stroke="#1a1a1a" stroke-width="0.7"/>
<line x1="53.6" y1="304.6" x2="55.2" y2="304.6" stroke="#1a1a1a" stroke-width="0.7"/>
<line x1="53.6" y1="306.8" x2="55.2" y2="306.8" stroke="#1a1a1a" stroke-width="0.7"/>
<line x1="53.6" y1="307.6" x2="55.2" y2="307.6" stroke="#1a1a1a" stroke-width="0.7"/>
<line x1="53.6" y1="308.6" x2="55.2" y2="308.6" stroke="#1a1a1a" stroke-width="0.7"/>
<line x1="53.6" y1="309.7" x2="55.2" y2="309.7" stroke="#1a1a1a" stroke-width="0.7"/>
<line x1="53.6" y1="311" x2="55.2" y2="311" stroke="#1a1a1a" stroke-width="0.7"/>
<line x1="53.6" y1="312.5" x2="55.2" y2="312.5" stroke="#1a1a1a" stroke-width="0.7"/>
<line x1="53.6" y1="314" x2="55.2" y2="314" stroke="#1a1a1a" stroke-width="0.7"/>
<line x1="53.6" y1="261.5" x2="55.2" y2="261.5" stroke="#1a1a1a" stroke-width="0.7"/>
<line x1="52.8" y1="304.2" x2="55.2" y2="304.2" stroke="#1a1a1a" stroke-width="0.8"/>
<line x1="52.8" y1="305" x2="55.2" y2="305" stroke="#1a1a1a" stroke-width="0.8"/>
<line x1="52.8" y1="305.7" x2="55.2" y2="305.7" stroke="#1a1a1a" stroke-width="0.8"/>
<line x1="52.8" y1="306.4" x2="55.2" y2="306.4" stroke="#1a1a1a" stroke-width="0.8"/>
<line x1="52.8" y1="307.2" x2="55.2" y2="307.2" stroke="#1a1a1a" stroke-width="0.8"/>
<text x="47.2" y="268.3" font-size="6" fill="#333333" text-anchor="end">10<tspan font-size="3.3" dy="-2.4">5</tspan></text>
<text x="47.2" y="282.2" font-size="6" fill="#333333" text-anchor="end">10<tspan font-size="3.3" dy="-2.4">4</tspan></text>
<text x="47.2" y="298" font-size="6" fill="#333333" text-anchor="end">10<tspan font-size="3.3" dy="-2.4">3</tspan></text>
<text x="47.2" y="307.8" font-size="6" fill="#333333" text-anchor="end">0</text>
<text x="47.2" y="317.5" font-size="6" fill="#333333" text-anchor="end">-10<tspan font-size="3.3" dy="-2.4">3</tspan></text>
<line x1="59" y1="318.7" x2="59" y2="321.3" stroke="#1a1a1a" stroke-width="1"/>
<line x1="68.2" y1="318.7" x2="68.2" y2="321.3" stroke="#1a1a1a" stroke-width="1"/>
<line x1="77.4" y1="318.7" x2="77.4" y2="321.3" stroke="#1a1a1a" stroke-width="1"/>
<line x1="93.8" y1="318.7" x2="93.8" y2="321.3" stroke="#1a1a1a" stroke-width="1"/>
<line x1="107.6" y1="318.7" x2="107.6" y2="321.3" stroke="#1a1a1a" stroke-width="1"/>
<line x1="82.34" y1="318.7" x2="82.34" y2="320.3" stroke="#1a1a1a" stroke-width="0.7"/>
<line x1="85.22" y1="318.7" x2="85.22" y2="320.3" stroke="#1a1a1a" stroke-width="0.7"/>
<line x1="87.27" y1="318.7" x2="87.27" y2="320.3" stroke="#1a1a1a" stroke-width="0.7"/>
<line x1="88.86" y1="318.7" x2="88.86" y2="320.3" stroke="#1a1a1a" stroke-width="0.7"/>
<line x1="90.16" y1="318.7" x2="90.16" y2="320.3" stroke="#1a1a1a" stroke-width="0.7"/>
<line x1="91.26" y1="318.7" x2="91.26" y2="320.3" stroke="#1a1a1a" stroke-width="0.7"/>
<line x1="92.21" y1="318.7" x2="92.21" y2="320.3" stroke="#1a1a1a" stroke-width="0.7"/>
<line x1="93.05" y1="318.7" x2="93.05" y2="320.3" stroke="#1a1a1a" stroke-width="0.7"/>
<line x1="97.95" y1="318.7" x2="97.95" y2="320.3" stroke="#1a1a1a" stroke-width="0.7"/>
<line x1="100.38" y1="318.7" x2="100.38" y2="320.3" stroke="#1a1a1a" stroke-width="0.7"/>
<line x1="102.11" y1="318.7" x2="102.11" y2="320.3" stroke="#1a1a1a" stroke-width="0.7"/>
<line x1="103.45" y1="318.7" x2="103.45" y2="320.3" stroke="#1a1a1a" stroke-width="0.7"/>
<line x1="104.54" y1="318.7" x2="104.54" y2="320.3" stroke="#1a1a1a" stroke-width="0.7"/>
<line x1="105.46" y1="318.7" x2="105.46" y2="320.3" stroke="#1a1a1a" stroke-width="0.7"/>
<line x1="106.26" y1="318.7" x2="106.26" y2="320.3" stroke="#1a1a1a" stroke-width="0.7"/>
<line x1="106.97" y1="318.7" x2="106.97" y2="320.3" stroke="#1a1a1a" stroke-width="0.7"/>
<line x1="60.6" y1="318.7" x2="60.6" y2="320.3" stroke="#1a1a1a" stroke-width="0.7"/>
<line x1="62" y1="318.7" x2="62" y2="320.3" stroke="#1a1a1a" stroke-width="0.7"/>
<line x1="63.3" y1="318.7" x2="63.3" y2="320.3" stroke="#1a1a1a" stroke-width="0.7"/>
<line x1="64.5" y1="318.7" x2="64.5" y2="320.3" stroke="#1a1a1a" stroke-width="0.7"/>
<line x1="65.6" y1="318.7" x2="65.6" y2="320.3" stroke="#1a1a1a" stroke-width="0.7"/>
<line x1="66.6" y1="318.7" x2="66.6" y2="320.3" stroke="#1a1a1a" stroke-width="0.7"/>
<line x1="67.4" y1="318.7" x2="67.4" y2="320.3" stroke="#1a1a1a" stroke-width="0.7"/>
<line x1="69" y1="318.7" x2="69" y2="320.3" stroke="#1a1a1a" stroke-width="0.7"/>
<line x1="69.8" y1="318.7" x2="69.8" y2="320.3" stroke="#1a1a1a" stroke-width="0.7"/>
<line x1="70.8" y1="318.7" x2="70.8" y2="320.3" stroke="#1a1a1a" stroke-width="0.7"/>
<line x1="71.9" y1="318.7" x2="71.9" y2="320.3" stroke="#1a1a1a" stroke-width="0.7"/>
<line x1="73.1" y1="318.7" x2="73.1" y2="320.3" stroke="#1a1a1a" stroke-width="0.7"/>
<line x1="74.5" y1="318.7" x2="74.5" y2="320.3" stroke="#1a1a1a" stroke-width="0.7"/>
<line x1="76" y1="318.7" x2="76" y2="320.3" stroke="#1a1a1a" stroke-width="0.7"/>
<line x1="111.5" y1="318.7" x2="111.5" y2="320.3" stroke="#1a1a1a" stroke-width="0.7"/>
<text x="58.4" y="330.2" font-size="6" fill="#333333" text-anchor="middle">-10<tspan font-size="3.3" dy="-2.4">3</tspan></text>
<text x="77.4" y="330.2" font-size="6" fill="#333333" text-anchor="middle">10<tspan font-size="3.3" dy="-2.4">3</tspan></text>
<text x="93.8" y="330.2" font-size="6" fill="#333333" text-anchor="middle">10<tspan font-size="3.3" dy="-2.4">4</tspan></text>
<text x="107.6" y="330.2" font-size="6" fill="#333333" text-anchor="middle">10<tspan font-size="3.3" dy="-2.4">5</tspan></text>
<text x="68.2" y="330.2" font-size="6" fill="#333333" text-anchor="middle">0</text>
<text x="84.6" y="342.2" font-size="9" fill="#333333" text-anchor="middle" textLength="23.1" lengthAdjust="spacingAndGlyphs">Ter119</text>
<text x="32.5" y="290.4" font-size="7.8" fill="#333333" text-anchor="middle" textLength="18.6" lengthAdjust="spacingAndGlyphs" transform="rotate(-90 32.5 290.4)">CD71</text>
<defs>
<filter id="bl" x="-20%" y="-20%" width="140%" height="140%"><feGaussianBlur stdDeviation="0.9"/></filter>
<filter id="bl2" x="-20%" y="-20%" width="140%" height="140%"><feGaussianBlur stdDeviation="1.4"/></filter>
</defs>
<path d="M94.6 261.4 L104.7 261.4 C106.5 262.5 107.7 266 107.8 270.7 C107.8 275 107.2 279 106 282.5 C104.7 286 103 289.5 101.4 291.5 C100 293 98.5 293.3 97 293.3 C94 293.2 90.5 292.5 87.8 291 C85 289.5 83 287.5 81.9 285.9 C80 283.5 79 281 79.4 279 C79.8 277 81 275.5 83.6 273.2 C85.5 271.8 86.5 270.5 87.3 269.5 C88.2 267.5 89.5 265 91.2 263.5 C92.3 262.5 93.4 261.6 94.6 261.4 Z" fill="none" stroke="#8c8c8c" stroke-width="0.6"/>
<path d="M95.2 262.2 L104.2 262.2 C105.6 263.2 106.6 266.4 106.7 270.7 C106.7 275 106.1 278.6 104.9 282 C103.7 285.3 102.1 288.4 100.6 290.1 C99.4 291.3 98.2 291.7 97 291.7 C94.4 291.6 91.2 291 88.8 289.6 C86.4 288.3 84.7 286.6 83.7 285.1 C82.1 283 81.2 281 81.6 279.5 C82 278 83 277 85.2 275 C87 273.5 88.1 272.1 88.9 270.7 C89.8 268.6 90.9 266.2 92.4 264.8 C93.3 263.6 94.2 262.4 95.2 262.2 Z" fill="#dadada" stroke="#a0a0a0" stroke-width="0.6"/>
<g filter="url(#bl2)">
<path d="M93 262.5 C99 261.8 105 262.5 106.3 266 C107.2 272 105.8 281 102.8 286.5 C100 290.5 95 290 91 286.8 C88.3 284 87.8 280 89.2 276 C90.3 272 90.6 265 93 262.5 Z" fill="#b4b4b4"/>
<ellipse cx="97.4" cy="275" rx="4.8" ry="10.5" fill="#8e8e8e"/>
</g>
<g filter="url(#bl)">
<ellipse cx="97.3" cy="273.8" rx="2.5" ry="7.6" fill="#5a5a5a" stroke="#2a2a2a" stroke-width="1.9"/>
<ellipse cx="97.8" cy="273" rx="0.6" ry="2.6" fill="#b0b0b0"/>
</g>
<path d="M83 419.3 C87 418.6 89.6 415 91 408 C92.5 400 94 388 95.2 378 C96 371 96.7 366 97.4 363.8 C98.1 366 98.7 371 99.3 378 C100 388 100.8 400 101.9 407.5 C102.8 413 104 417.5 105.6 419.3 Z" fill="#c8bfc3"/>
<rect x="55.2" y="361" width="58.2" height="58.3" fill="none" stroke="#383838" stroke-width="1.15"/>
<line x1="52.6" y1="362.1" x2="55.2" y2="362.1" stroke="#1a1a1a" stroke-width="1"/>
<line x1="52.6" y1="376.5" x2="55.2" y2="376.5" stroke="#1a1a1a" stroke-width="1"/>
<line x1="52.6" y1="390.8" x2="55.2" y2="390.8" stroke="#1a1a1a" stroke-width="1"/>
<line x1="52.6" y1="405.1" x2="55.2" y2="405.1" stroke="#1a1a1a" stroke-width="1"/>
<line x1="52.6" y1="419.3" x2="55.2" y2="419.3" stroke="#1a1a1a" stroke-width="1"/>
<line x1="53.6" y1="364.98" x2="55.2" y2="364.98" stroke="#1a1a1a" stroke-width="0.7"/>
<line x1="53.6" y1="367.86" x2="55.2" y2="367.86" stroke="#1a1a1a" stroke-width="0.7"/>
<line x1="53.6" y1="370.74" x2="55.2" y2="370.74" stroke="#1a1a1a" stroke-width="0.7"/>
<line x1="53.6" y1="373.62" x2="55.2" y2="373.62" stroke="#1a1a1a" stroke-width="0.7"/>
<line x1="53.6" y1="379.36" x2="55.2" y2="379.36" stroke="#1a1a1a" stroke-width="0.7"/>
<line x1="53.6" y1="382.22" x2="55.2" y2="382.22" stroke="#1a1a1a" stroke-width="0.7"/>
<line x1="53.6" y1="385.08" x2="55.2" y2="385.08" stroke="#1a1a1a" stroke-width="0.7"/>
<line x1="53.6" y1="387.94" x2="55.2" y2="387.94" stroke="#1a1a1a" stroke-width="0.7"/>
<line x1="53.6" y1="393.66" x2="55.2" y2="393.66" stroke="#1a1a1a" stroke-width="0.7"/>
<line x1="53.6" y1="396.52" x2="55.2" y2="396.52" stroke="#1a1a1a" stroke-width="0.7"/>
<line x1="53.6" y1="399.38" x2="55.2" y2="399.38" stroke="#1a1a1a" stroke-width="0.7"/>
<line x1="53.6" y1="402.24" x2="55.2" y2="402.24" stroke="#1a1a1a" stroke-width="0.7"/>
<line x1="53.6" y1="407.94" x2="55.2" y2="407.94" stroke="#1a1a1a" stroke-width="0.7"/>
<line x1="53.6" y1="410.78" x2="55.2" y2="410.78" stroke="#1a1a1a" stroke-width="0.7"/>
<line x1="53.6" y1="413.62" x2="55.2" y2="413.62" stroke="#1a1a1a" stroke-width="0.7"/>
<line x1="53.6" y1="416.46" x2="55.2" y2="416.46" stroke="#1a1a1a" stroke-width="0.7"/>
<text x="48.6" y="364.2" font-size="6" fill="#333333" text-anchor="end">200</text>
<text x="48.6" y="378.6" font-size="6" fill="#333333" text-anchor="end">150</text>
<text x="48.6" y="392.9" font-size="6" fill="#333333" text-anchor="end">100</text>
<text x="48.6" y="407.2" font-size="6" fill="#333333" text-anchor="end">50</text>
<text x="48.6" y="421.4" font-size="6" fill="#333333" text-anchor="end">0</text>
<line x1="59" y1="419.3" x2="59" y2="421.9" stroke="#1a1a1a" stroke-width="1"/>
<line x1="68.2" y1="419.3" x2="68.2" y2="421.9" stroke="#1a1a1a" stroke-width="1"/>
<line x1="77.4" y1="419.3" x2="77.4" y2="421.9" stroke="#1a1a1a" stroke-width="1"/>
<line x1="93.8" y1="419.3" x2="93.8" y2="421.9" stroke="#1a1a1a" stroke-width="1"/>
<line x1="107.6" y1="419.3" x2="107.6" y2="421.9" stroke="#1a1a1a" stroke-width="1"/>
<line x1="82.34" y1="419.3" x2="82.34" y2="420.9" stroke="#1a1a1a" stroke-width="0.7"/>
<line x1="85.22" y1="419.3" x2="85.22" y2="420.9" stroke="#1a1a1a" stroke-width="0.7"/>
<line x1="87.27" y1="419.3" x2="87.27" y2="420.9" stroke="#1a1a1a" stroke-width="0.7"/>
<line x1="88.86" y1="419.3" x2="88.86" y2="420.9" stroke="#1a1a1a" stroke-width="0.7"/>
<line x1="90.16" y1="419.3" x2="90.16" y2="420.9" stroke="#1a1a1a" stroke-width="0.7"/>
<line x1="91.26" y1="419.3" x2="91.26" y2="420.9" stroke="#1a1a1a" stroke-width="0.7"/>
<line x1="92.21" y1="419.3" x2="92.21" y2="420.9" stroke="#1a1a1a" stroke-width="0.7"/>
<line x1="93.05" y1="419.3" x2="93.05" y2="420.9" stroke="#1a1a1a" stroke-width="0.7"/>
<line x1="97.95" y1="419.3" x2="97.95" y2="420.9" stroke="#1a1a1a" stroke-width="0.7"/>
<line x1="100.38" y1="419.3" x2="100.38" y2="420.9" stroke="#1a1a1a" stroke-width="0.7"/>
<line x1="102.11" y1="419.3" x2="102.11" y2="420.9" stroke="#1a1a1a" stroke-width="0.7"/>
<line x1="103.45" y1="419.3" x2="103.45" y2="420.9" stroke="#1a1a1a" stroke-width="0.7"/>
<line x1="104.54" y1="419.3" x2="104.54" y2="420.9" stroke="#1a1a1a" stroke-width="0.7"/>
<line x1="105.46" y1="419.3" x2="105.46" y2="420.9" stroke="#1a1a1a" stroke-width="0.7"/>
<line x1="106.26" y1="419.3" x2="106.26" y2="420.9" stroke="#1a1a1a" stroke-width="0.7"/>
<line x1="106.97" y1="419.3" x2="106.97" y2="420.9" stroke="#1a1a1a" stroke-width="0.7"/>
<line x1="60.6" y1="419.3" x2="60.6" y2="420.9" stroke="#1a1a1a" stroke-width="0.7"/>
<line x1="62" y1="419.3" x2="62" y2="420.9" stroke="#1a1a1a" stroke-width="0.7"/>
<line x1="63.3" y1="419.3" x2="63.3" y2="420.9" stroke="#1a1a1a" stroke-width="0.7"/>
<line x1="64.5" y1="419.3" x2="64.5" y2="420.9" stroke="#1a1a1a" stroke-width="0.7"/>
<line x1="65.6" y1="419.3" x2="65.6" y2="420.9" stroke="#1a1a1a" stroke-width="0.7"/>
<line x1="66.6" y1="419.3" x2="66.6" y2="420.9" stroke="#1a1a1a" stroke-width="0.7"/>
<line x1="67.4" y1="419.3" x2="67.4" y2="420.9" stroke="#1a1a1a" stroke-width="0.7"/>
<line x1="69" y1="419.3" x2="69" y2="420.9" stroke="#1a1a1a" stroke-width="0.7"/>
<line x1="69.8" y1="419.3" x2="69.8" y2="420.9" stroke="#1a1a1a" stroke-width="0.7"/>
<line x1="70.8" y1="419.3" x2="70.8" y2="420.9" stroke="#1a1a1a" stroke-width="0.7"/>
<line x1="71.9" y1="419.3" x2="71.9" y2="420.9" stroke="#1a1a1a" stroke-width="0.7"/>
<line x1="73.1" y1="419.3" x2="73.1" y2="420.9" stroke="#1a1a1a" stroke-width="0.7"/>
<line x1="74.5" y1="419.3" x2="74.5" y2="420.9" stroke="#1a1a1a" stroke-width="0.7"/>
<line x1="76" y1="419.3" x2="76" y2="420.9" stroke="#1a1a1a" stroke-width="0.7"/>
<line x1="111.5" y1="419.3" x2="111.5" y2="420.9" stroke="#1a1a1a" stroke-width="0.7"/>
<text x="58.4" y="430.6" font-size="6" fill="#333333" text-anchor="middle">-10<tspan font-size="3.3" dy="-2.4">3</tspan></text>
<text x="77.4" y="430.6" font-size="6" fill="#333333" text-anchor="middle">10<tspan font-size="3.3" dy="-2.4">3</tspan></text>
<text x="93.8" y="430.6" font-size="6" fill="#333333" text-anchor="middle">10<tspan font-size="3.3" dy="-2.4">4</tspan></text>
<text x="107.6" y="430.6" font-size="6" fill="#333333" text-anchor="middle">10<tspan font-size="3.3" dy="-2.4">5</tspan></text>
<text x="68.2" y="430.6" font-size="6" fill="#333333" text-anchor="middle">0</text>
<text x="84.6" y="442.6" font-size="9" fill="#333333" text-anchor="middle" textLength="23.1" lengthAdjust="spacingAndGlyphs">Ter119</text>
<text x="34.2" y="390.8" font-size="9" fill="#333333" text-anchor="middle" textLength="21.8" lengthAdjust="spacingAndGlyphs" transform="rotate(-90 34.2 390.8)">Count</text>
<path d="M55.2 407.2 H89.4 M89.4 405.8 V411.4 M89.4 410.4 H113.4" fill="none" stroke="#333" stroke-width="0.9"/>
<text x="56.3" y="368.2" font-size="5.2" fill="#333333" textLength="16" lengthAdjust="spacingAndGlyphs" font-family="Liberation Serif">Ter119-</text>
<text x="56.3" y="374.6" font-size="5.2" fill="#333333" textLength="8.7" lengthAdjust="spacingAndGlyphs" font-family="Liberation Serif">6.36</text>
<text x="90.6" y="368.2" font-size="5.2" fill="#333333" textLength="17.5" lengthAdjust="spacingAndGlyphs" font-family="Liberation Serif">Ter119+</text>
<text x="100.1" y="374.6" font-size="5.2" fill="#333333" textLength="8.7" lengthAdjust="spacingAndGlyphs" font-family="Liberation Serif">93.6</text>
</g>
<rect x="0" y="0" width="520" height="1" fill="#6a6a64"/>
<rect x="0" y="0" width="1" height="450" fill="#2e2e2a"/>
<rect x="1" y="1" width="517" height="1" fill="#bdbdb8"/>
<rect x="1" y="2" width="1" height="446" fill="#e2e2de"/>
<rect x="518" y="0" width="2" height="450" fill="#62625c"/>
<rect x="0" y="448" width="520" height="2" fill="#62625c"/>
</svg>
</body></html>
